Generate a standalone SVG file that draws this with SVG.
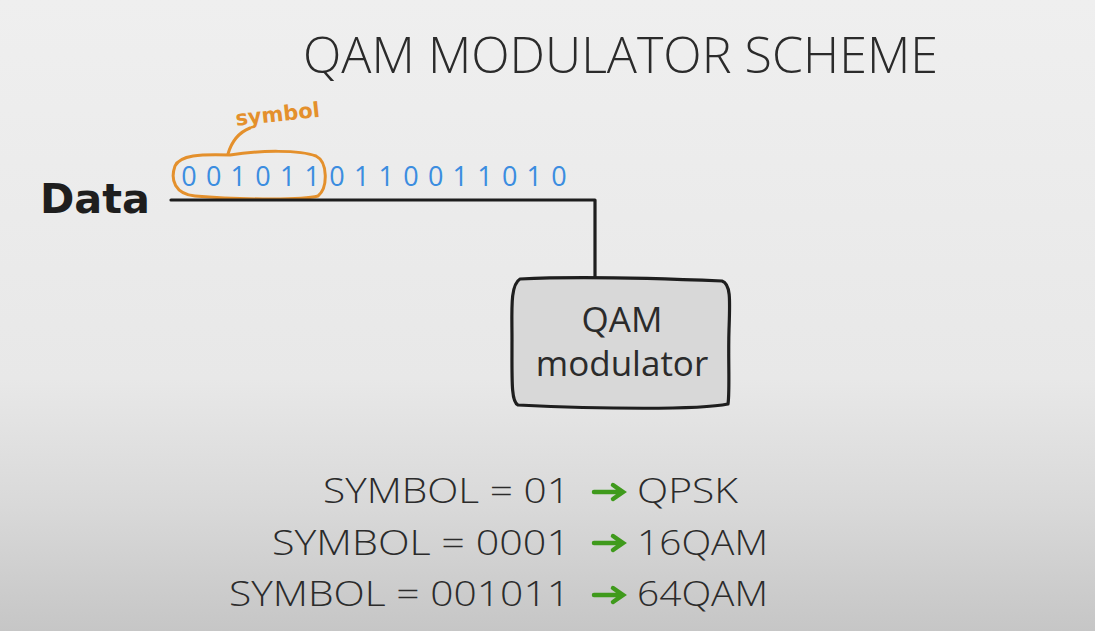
<svg xmlns="http://www.w3.org/2000/svg" width="1095" height="631" viewBox="0 0 1095 631">
<defs>
<linearGradient id="bg" x1="0" y1="0" x2="0" y2="1">
<stop offset="0" stop-color="#efefef"/>
<stop offset="0.6" stop-color="#e8e8e8"/>
<stop offset="0.8" stop-color="#d9d9d9"/>
<stop offset="1" stop-color="#c6c6c6"/>
</linearGradient>
<style>
.thin{font-family:"Open Sans","Liberation Sans",sans-serif;font-weight:300;fill:#2b2b2b}
.bit{font-family:"Open Sans","Liberation Sans",sans-serif;font-size:27px;fill:#3b8de0;text-anchor:middle}
.box{font-family:"Open Sans","Liberation Sans",sans-serif;font-size:35px;fill:#2b2b2b;text-anchor:middle}
.ink{fill:none;stroke:#1e1e1e;stroke-width:3.2;stroke-linecap:round;stroke-linejoin:round}
.or{fill:none;stroke:#e4902c;stroke-width:3;stroke-linecap:round}
.garr{fill:none;stroke:#3f9a1c;stroke-width:4.5;stroke-linecap:round}
</style>
</defs>
<rect width="1095" height="631" fill="url(#bg)"/>
<g id="title"><text class="thin" x="303" y="73" font-size="49" textLength="635" lengthAdjust="spacingAndGlyphs">QAM MODULATOR SCHEME</text></g>
<g id="data"><text x="40" y="213" font-family="'DejaVu Sans','Liberation Sans',sans-serif" font-weight="bold" font-size="40" fill="#1e1e1e" textLength="110" lengthAdjust="spacingAndGlyphs">Data</text></g>
<g id="bits">
<text class="bit" x="189" y="186">0</text><text class="bit" x="213.7" y="186">0</text><text class="bit" x="238.3" y="186">1</text><text class="bit" x="263" y="186">0</text><text class="bit" x="287.7" y="186">1</text><text class="bit" x="312.3" y="186">1</text>
<text class="bit" x="337" y="186">0</text><text class="bit" x="361.7" y="186">1</text><text class="bit" x="386.3" y="186">1</text><text class="bit" x="411" y="186">0</text><text class="bit" x="435.7" y="186">0</text><text class="bit" x="460.3" y="186">1</text><text class="bit" x="485" y="186">1</text><text class="bit" x="509.7" y="186">0</text><text class="bit" x="534.3" y="186">1</text><text class="bit" x="559" y="186">0</text>
</g>
<g id="symbol-marker">
<path class="or" d="M230,155 C260,150 300,150 316,156 C328,162 328,188 318,196 C300,201 230,199 195,196 C175,194 170,180 175,166 C180,155 200,154 230,155"/>
<path class="or" d="M228,154 C232,140 240,132 250,128"/>
<text x="235" y="121" transform="rotate(-6 280 112)" font-family="'DejaVu Sans','Liberation Sans',sans-serif" font-weight="bold" font-size="21" fill="#e4902c">symbol</text>
</g>
<g id="connectors">
<path class="ink" d="M171,200 L595,200 L595,281"/>
</g>
<g id="qam-modulator">
<path d="M520,279 C580,276 650,278 722,281 C731,284 730,300 729,330 C728,360 730,390 728,404 C700,410 600,409 518,405 C511,402 512,380 512,340 C512,310 510,285 520,279 Z" fill="#d8d8d8" stroke="#1e1e1e" stroke-width="3.2" stroke-linejoin="round"/>
<text class="box" x="622" y="332">QAM</text>
<text class="box" x="622" y="376">modulator</text>
</g>
<g id="table">
<text class="thin" x="323" y="503" font-size="35" textLength="247" lengthAdjust="spacingAndGlyphs">SYMBOL = 01</text>
<text class="thin" x="272" y="555" font-size="35" textLength="298" lengthAdjust="spacingAndGlyphs">SYMBOL = 0001</text>
<text class="thin" x="229" y="606" font-size="35" textLength="341" lengthAdjust="spacingAndGlyphs">SYMBOL = 001011</text>
<path class="garr" d="M594,492 L622,492 M613,485 L623,492 L613,499"/>
<path class="garr" d="M594,543 L622,543 M613,536 L623,543 L613,550"/>
<path class="garr" d="M594,595 L622,595 M613,588 L623,595 L613,602"/>
<text class="thin" x="637" y="503" font-size="35" textLength="101" lengthAdjust="spacingAndGlyphs">QPSK</text>
<text class="thin" x="637" y="555" font-size="35" textLength="131" lengthAdjust="spacingAndGlyphs">16QAM</text>
<text class="thin" x="637" y="606" font-size="35" textLength="131" lengthAdjust="spacingAndGlyphs">64QAM</text>
</g>
</svg>
